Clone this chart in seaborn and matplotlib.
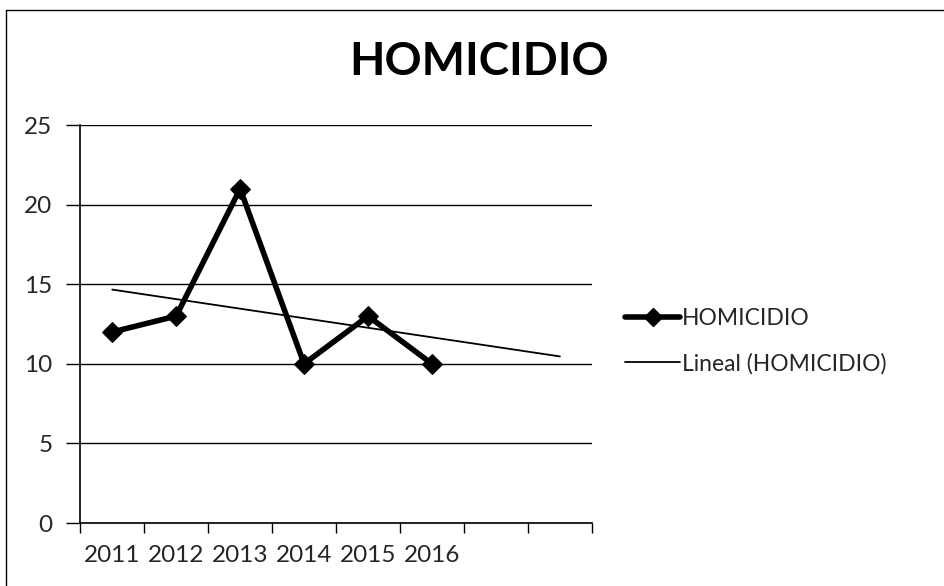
import numpy as np
import pandas as pd
import matplotlib
matplotlib.use("Agg")
import matplotlib.pyplot as plt
import seaborn as sns
from matplotlib.lines import Line2D

# datos
years = ["2011", "2012", "2013", "2014", "2015", "2016"]
homicidio = [12, 13, 21, 10, 13, 10]
n_slots = 8  # el eje tiene 2 periodos extra (pronostico de la tendencia)
y_ticks = [0, 5, 10, 15, 20, 25]

sns.set_theme(style="white")
plt.rcParams["font.family"] = ["Lato", "DejaVu Sans"]

fig = plt.figure(figsize=(9.44, 5.86), dpi=100)
ax = fig.add_axes([0.085, 0.1075, 0.542, 0.679])

pos = np.arange(len(years))
df = pd.DataFrame({"pos": pos, "valor": homicidio})

# tendencia lineal como en Excel, extendida hacia adelante
coef = np.polyfit(pos, homicidio, 1)
pos_tend = np.arange(n_slots)
tend = pd.DataFrame({"pos": pos_tend, "valor": np.polyval(coef, pos_tend)})

sns.lineplot(data=tend, x="pos", y="valor", color="black", linewidth=1.3,
             ax=ax, legend=False)
sns.lineplot(data=df, x="pos", y="valor", color="black", linewidth=4,
             marker="D", markersize=10, markeredgecolor="black", ax=ax, legend=False)

ax.set_xlim(-0.5, n_slots - 0.5)
ax.set_ylim(0, 25)
ax.set_xlabel("")
ax.set_ylabel("")

# ticks x: marcas en los limites de categoria, etiquetas centradas
ax.set_xticks(np.arange(-0.5, n_slots, 1))
ax.set_xticklabels([])
ax.set_xticks(pos, minor=True)
ax.set_xticklabels(years, minor=True, fontsize=17.5)
ax.tick_params(axis="x", which="major", direction="out", length=7, color="black", width=1, bottom=True)
ax.tick_params(axis="x", which="minor", length=0, pad=16, bottom=True)

ax.set_yticks(y_ticks)
ax.set_yticklabels([str(v) for v in y_ticks], fontsize=17.5)
ax.tick_params(axis="y", direction="out", length=10, color="black", width=1, left=True, pad=10)

ax.yaxis.grid(True, color="black", linewidth=1)
ax.xaxis.grid(False)
for s in ["top", "right"]:
    ax.spines[s].set_visible(False)
for s in ["left", "bottom"]:
    ax.spines[s].set_color("black")
    ax.spines[s].set_linewidth(1.2)

fig.text(0.508, 0.894, "HOMICIDIO", ha="center", va="center",
         fontsize=33, fontweight="bold", color="black")

handles = [
    Line2D([], [], color="black", linewidth=4, marker="D", markersize=9),
    Line2D([], [], color="black", linewidth=1.3),
]
fig.legend(handles, ["HOMICIDIO", "Lineal (HOMICIDIO)"], loc="center left",
           bbox_to_anchor=(625 / 944, 1 - 341 / 586), frameon=False,
           fontsize=16.5, handlelength=2.4, handletextpad=0.1,
           labelspacing=1.05, borderpad=0, borderaxespad=0)

# marco del grafico
fig.add_artist(Line2D([6 / 944, 6 / 944], [0, 1 - 10 / 586], color="black", linewidth=1))
fig.add_artist(Line2D([6 / 944, 1], [1 - 10 / 586, 1 - 10 / 586], color="black", linewidth=1))

fig.savefig("out.png", dpi=100)
